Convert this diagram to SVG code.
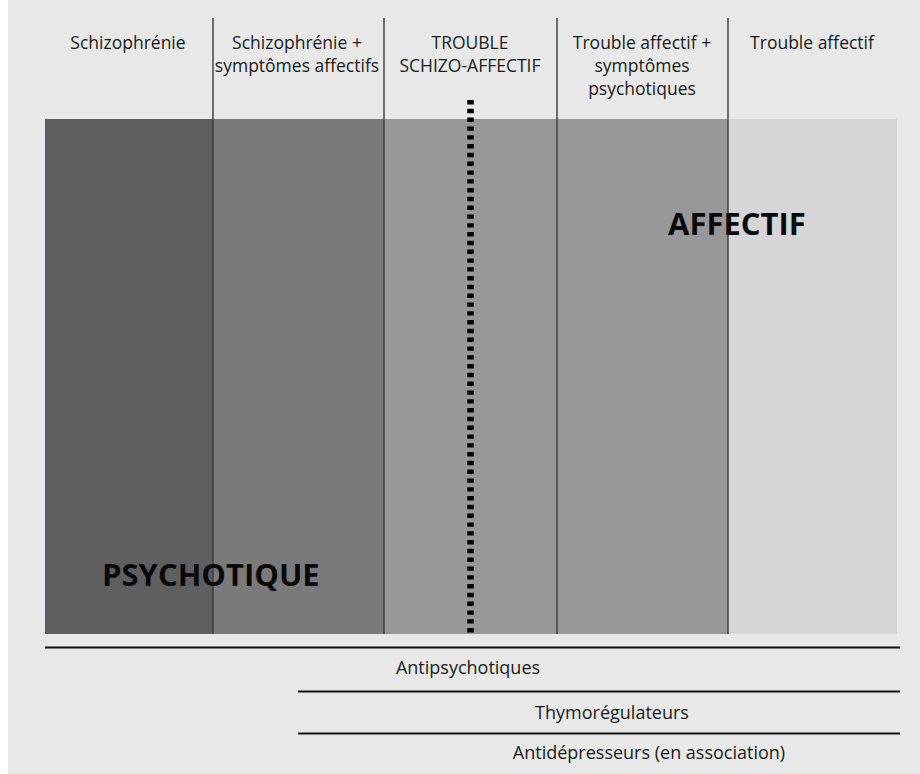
<svg xmlns="http://www.w3.org/2000/svg" width="920" height="774" viewBox="0 0 920 774">
<style>
.hdr{font-family:"Open Sans","Liberation Sans",sans-serif;font-size:17.5px;fill:#1a1a1a;text-anchor:middle}
.big{font-family:"Open Sans","Liberation Sans",sans-serif;font-size:31px;font-weight:bold;fill:#0a0a0a}
.trt{font-family:"Open Sans","Liberation Sans",sans-serif;font-size:18px;fill:#1a1a1a;text-anchor:middle}
.div{stroke:#3a3a3c;stroke-width:1.4}
.rule{stroke:#111;stroke-width:2.2}
</style>
<rect x="8" y="0" width="912" height="774" fill="#e8e8e8"/>
<g id="bands">
<rect x="45" y="119" width="168" height="515" fill="#5f5f61"/>
<rect x="213" y="119" width="171" height="515" fill="#7a7a7d"/>
<rect x="384" y="119" width="173" height="515" fill="#98989b"/>
<rect x="557" y="119" width="171" height="515" fill="#98989b"/>
<rect x="728" y="119" width="169" height="515" fill="#d6d6d8"/>
</g>
<g id="connectors">
<line class="div" x1="213" y1="18" x2="213" y2="634"/>
<line class="div" x1="384" y1="18" x2="384" y2="634"/>
<line class="div" x1="557" y1="18" x2="557" y2="634"/>
<line class="div" x1="728" y1="18" x2="728" y2="634"/>
<line x1="470.5" y1="100" x2="470.5" y2="634" stroke="#000" stroke-width="6.5" stroke-dasharray="4.4 4.4"/>
<line class="rule" x1="45" y1="647.5" x2="900" y2="647.5"/>
<line class="rule" x1="298" y1="691.5" x2="900" y2="691.5"/>
<line class="rule" x1="298" y1="733.5" x2="900" y2="733.5"/>
</g>
<g id="col-schizophrenie"><text class="hdr" x="128" y="49">Schizophrénie</text></g>
<g id="col-schizo-affectifs"><text class="hdr" x="297" y="49">Schizophrénie +</text><text class="hdr" x="297" y="72">symptômes affectifs</text></g>
<g id="col-schizo-affectif"><text class="hdr" x="470" y="49">TROUBLE</text><text class="hdr" x="470" y="72">SCHIZO-AFFECTIF</text></g>
<g id="col-affectif-psy"><text class="hdr" x="642" y="49">Trouble affectif +</text><text class="hdr" x="642" y="72">symptômes</text><text class="hdr" x="642" y="95">psychotiques</text></g>
<g id="col-affectif"><text class="hdr" x="812" y="49">Trouble affectif</text></g>
<g id="label-affectif"><text class="big" x="668" y="235">AFFECTIF</text></g>
<g id="label-psychotique"><text class="big" x="102" y="586">PSYCHOTIQUE</text></g>
<g id="t-antipsy"><text class="trt" x="468" y="674">Antipsychotiques</text></g>
<g id="t-thymo"><text class="trt" x="612" y="719">Thymorégulateurs</text></g>
<g id="t-antidep"><text class="trt" x="649" y="759">Antidépresseurs (en association)</text></g>
</svg>
